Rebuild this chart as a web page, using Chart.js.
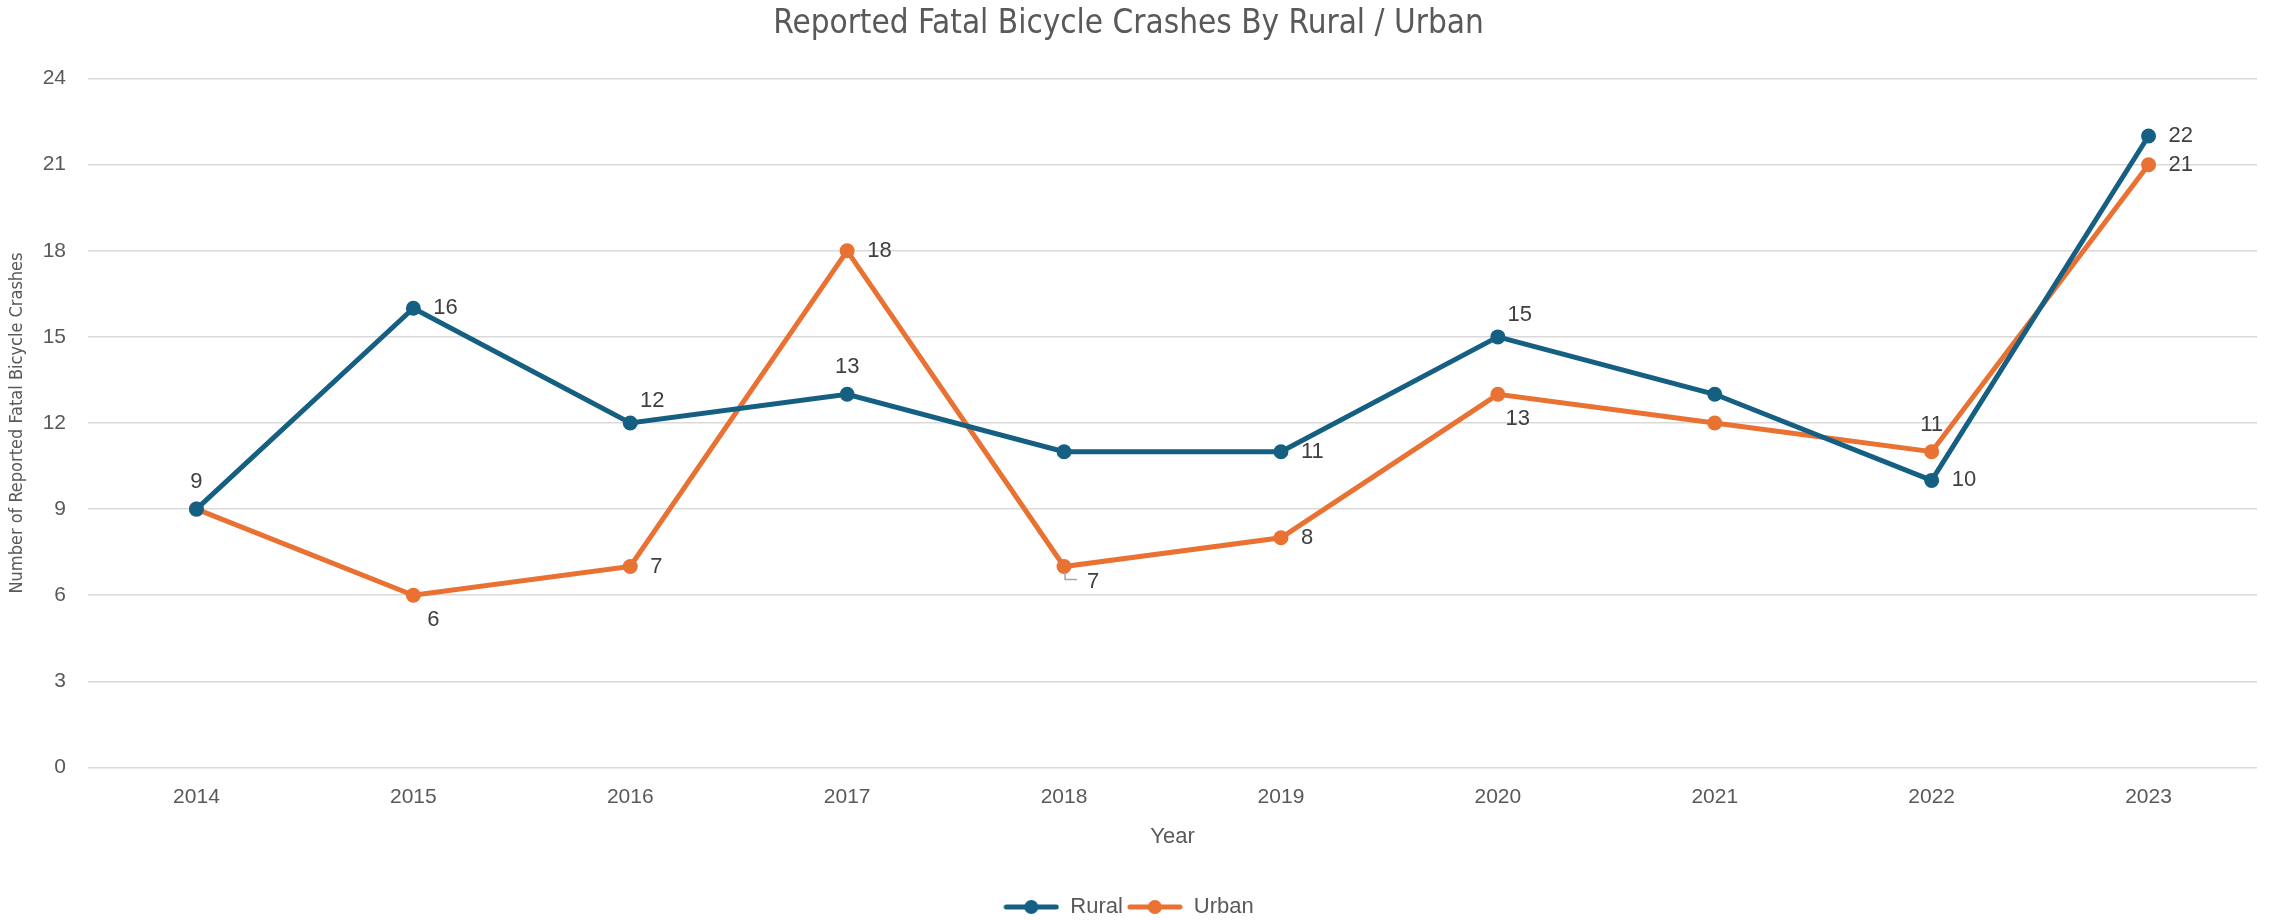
<!DOCTYPE html>
<html>
<head>
<meta charset="utf-8">
<script src="https://cdn.jsdelivr.net/npm/chart.js@4.4.1/dist/chart.umd.min.js"></script>
<style>
  html, body { margin: 0; padding: 0; background: #ffffff; }
  #wrap { width: 2269px; height: 920px; }
</style>
</head>
<body>
<div id="wrap"><canvas id="crashChart"></canvas></div>
<script>
// values
const years = ["2014", "2015", "2016", "2017", "2018", "2019", "2020", "2021", "2022", "2023"];
const rural = [9, 16, 12, 13, 11, 11, 15, 13, 10, 22];
const urban = [9, 6, 7, 18, 7, 8, 13, 12, 11, 21];

// where each value label sits (null = no label)
const ruralLabelPos = ["above", "right", "aboveRight", "above", null, "right", "aboveRight", null, "right", "right"];
const urbanLabelPos = [null, "belowRight", "right", "right", "leader", "right", "belowRight", null, "above", "right"];

const blue = "#156082";
const orange = "#E97132";
const grey = "#595959";
const narrow = "'Liberation Sans Narrow', 'DejaVu Sans Condensed', sans-serif";
const sans = "'Liberation Sans', Arial, sans-serif";

function legendIcon(color) {
    const c = document.createElement("canvas");
    c.width = 56; c.height = 16;
    const g = c.getContext("2d");
    g.strokeStyle = color;
    g.lineWidth = 5;
    g.lineCap = "round";
    g.beginPath(); g.moveTo(3, 8); g.lineTo(53, 8); g.stroke();
    g.fillStyle = color;
    g.beginPath(); g.arc(28, 8, 7, 0, Math.PI * 2); g.fill();
    return c;
}

const valueLabels = {
    id: "valueLabels",
    afterDatasetsDraw(chart) {
        const ctx = chart.ctx;
        const places = [ruralLabelPos, urbanLabelPos];
        ctx.save();
        ctx.font = "22px " + sans;
        ctx.fillStyle = "#404040";
        ctx.textBaseline = "middle";
        chart.data.datasets.forEach((ds, di) => {
            const meta = chart.getDatasetMeta(di);
            meta.data.forEach((pt, i) => {
                const where = places[di][i];
                if (!where) return;
                const txt = String(ds.data[i]);
                let x = pt.x, y = pt.y;
                ctx.textAlign = "center";
                if (where === "right") { ctx.textAlign = "left"; x += 20; }
                else if (where === "above") { y -= 27; }
                else if (where === "aboveRight") { x += 22; y -= 22; }
                else if (where === "belowRight") { x += 20; y += 25; }
                else if (where === "leader") {
                    ctx.strokeStyle = "#a6a6a6";
                    ctx.lineWidth = 1.5;
                    ctx.beginPath();
                    ctx.moveTo(pt.x + 1, pt.y + 6);
                    ctx.lineTo(pt.x + 1, pt.y + 13);
                    ctx.lineTo(pt.x + 13, pt.y + 13);
                    ctx.stroke();
                    ctx.textAlign = "left";
                    x += 23; y += 15;
                }
                ctx.fillText(txt, x, y);
            });
        });
        ctx.restore();
    }
};

new Chart(document.getElementById("crashChart"), {
    type: "line",
    data: {
        labels: years,
        datasets: [
            {
                label: "Rural",
                data: rural,
                borderColor: blue,
                backgroundColor: blue,
                borderWidth: 5,
                pointRadius: 7.5,
                pointBorderWidth: 0,
                pointBackgroundColor: blue,
                pointStyle: "circle",
                tension: 0
            },
            {
                label: "Urban",
                data: urban,
                borderColor: orange,
                backgroundColor: orange,
                borderWidth: 5,
                pointRadius: 7.5,
                pointBorderWidth: 0,
                pointBackgroundColor: orange,
                pointStyle: "circle",
                tension: 0
            }
        ]
    },
    plugins: [valueLabels],
    options: {
        responsive: true,
        maintainAspectRatio: false,
        animation: false,
        events: [],
        layout: { padding: { left: 0, right: 12, top: 0, bottom: -8 } },
        plugins: {
            title: {
                display: true,
                text: "Reported Fatal Bicycle Crashes By Rural / Urban",
                color: grey,
                font: { family: narrow, size: 33, weight: "normal" },
                padding: { top: 5, bottom: 34 }
            },
            legend: {
                position: "bottom",
                labels: {
                    color: grey,
                    font: { family: sans, size: 22 },
                    usePointStyle: true,
                    pointStyleWidth: 56,
                    padding: 4,
                    generateLabels(chart) {
                        return chart.data.datasets.map((ds, i) => ({
                            text: ds.label,
                            fontColor: grey,
                            pointStyle: legendIcon(ds.borderColor),
                            datasetIndex: i,
                            hidden: false,
                            lineWidth: 0
                        }));
                    }
                }
            },
            tooltip: { enabled: false }
        },
        scales: {
            x: {
                offset: true,
                grid: { display: false, drawTicks: false },
                border: { display: false },
                ticks: { color: grey, font: { family: sans, size: 21 }, padding: 17 },
                title: {
                    display: true,
                    text: "Year",
                    color: grey,
                    font: { family: sans, size: 22 },
                    padding: { top: -3, bottom: 42 }
                }
            },
            y: {
                min: 0,
                max: 24,
                ticks: { stepSize: 3, color: grey, font: { family: sans, size: 21 }, padding: 22 },
                grid: { color: "#d9d9d9", lineWidth: 1.5, drawTicks: false },
                border: { display: false },
                title: {
                    display: true,
                    text: "Number of Reported Fatal Bicycle Crashes",
                    color: grey,
                    font: { family: narrow, size: 18 },
                    padding: { top: 7, bottom: 10 }
                },
                afterFit(scale) { scale.width = 88; }
            }
        }
    }
});
</script>
</body>
</html>
